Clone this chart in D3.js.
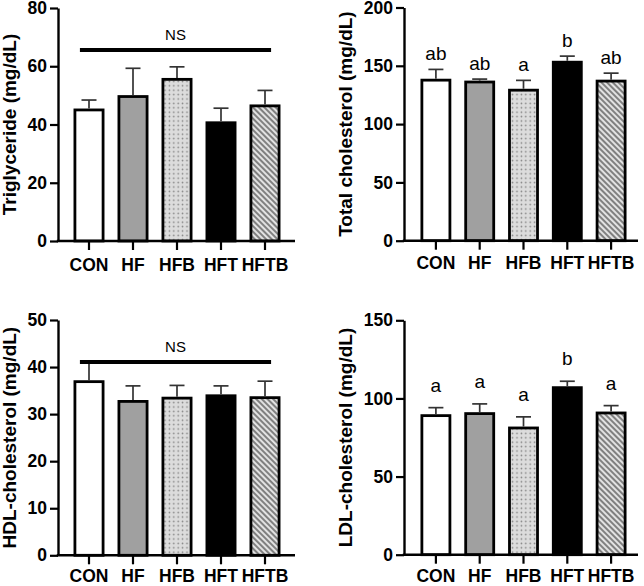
<!DOCTYPE html>
<html><head><meta charset="utf-8">
<script src="https://cdn.jsdelivr.net/npm/d3@7"></script>
<style>
html,body{margin:0;padding:0;background:#fff;}
svg{display:block;font-family:"Liberation Sans",Arial,Helvetica,sans-serif;}
</style></head>
<body>
<svg id="chart" width="644" height="586"></svg>
<script>
// ---- data ----
const categories = ["CON", "HF", "HFB", "HFT", "HFTB"];
const tgMean  = [45.0, 49.6, 55.5, 40.6, 46.4];
const tgErr   = [3.4, 9.7, 4.3, 5.0, 5.3];
const tcMean  = [137.7, 136.1, 129.1, 153.1, 136.9];
const tcErr   = [9.2, 2.5, 8.4, 5.2, 6.8];
const hdlMean = [36.9, 32.7, 33.4, 33.9, 33.5];
const hdlErr  = [4.4, 3.3, 2.7, 2.1, 3.5];
const ldlMean = [89.0, 90.3, 81.1, 106.9, 90.7];
const ldlErr  = [5.1, 6.2, 7.1, 4.1, 4.7];
const tcLetters  = ["ab", "ab", "a", "b", "ab"];
const ldlLetters = ["a", "a", "a", "b", "a"];
const tgTicks  = [0, 20, 40, 60, 80];
const tcTicks  = [0, 50, 100, 150, 200];
const hdlTicks = [0, 10, 20, 30, 40, 50];
const ldlTicks = [0, 50, 100, 150];

const svg = d3.select("#chart");
const defs = svg.append("defs");

// dotted pattern (HFB)
const pd = defs.append("pattern").attr("id", "dots").attr("patternUnits", "userSpaceOnUse")
  .attr("width", 4.4).attr("height", 4.4);
pd.append("rect").attr("width", 4.4).attr("height", 4.4).attr("fill", "#dcdcdc");
pd.append("circle").attr("cx", 2.2).attr("cy", 2.2).attr("r", 0.8).attr("fill", "#808080");

// diagonal hatch (HFTB)
const ph = defs.append("pattern").attr("id", "hatch").attr("patternUnits", "userSpaceOnUse")
  .attr("width", 4).attr("height", 4).attr("patternTransform", "rotate(45)");
ph.append("rect").attr("width", 4).attr("height", 4).attr("fill", "#e2e2e2");
ph.append("line").attr("x1", 0).attr("y1", 1).attr("x2", 4).attr("y2", 1)
  .attr("stroke", "#4a4a4a").attr("stroke-width", 1.3);

const fills = ["#ffffff", "#a0a0a0", "url(#dots)", "#000000", "url(#hatch)"];

const panels = [
  {mean: tgMean, err: tgErr, ticks: tgTicks, title: "Triglyceride (mg/dL)",
   ax: 58, top: 8, bottom: 241, band: [67, 287], axEnd: 295, titleX: 16, labelY: 271, ns: true},
  {mean: tcMean, err: tcErr, ticks: tcTicks, title: "Total cholesterol (mg/dL)",
   ax: 404, top: 7.5, bottom: 240.7, band: [414, 633], axEnd: 638, titleX: 352, labelY: 269,
   letters: tcLetters, letterGap: 9},
  {mean: hdlMean, err: hdlErr, ticks: hdlTicks, title: "HDL-cholesterol (mg/dL)",
   ax: 58, top: 320, bottom: 555.3, band: [67, 287], axEnd: 295, titleX: 16, labelY: 582, ns: true},
  {mean: ldlMean, err: ldlErr, ticks: ldlTicks, title: "LDL-cholesterol (mg/dL)",
   ax: 404, top: 320.3, bottom: 554.7, band: [414, 633], axEnd: 638, titleX: 352, labelY: 582,
   letters: ldlLetters, letterGap: 16}
];

panels.forEach(p => {
  const g = svg.append("g");
  const y = d3.scaleLinear().domain([p.ticks[0], p.ticks[p.ticks.length - 1]]).range([p.bottom, p.top]);
  const x = d3.scaleBand().domain(categories).range(p.band).paddingInner(0.36).paddingOuter(0.18);

  // bars
  g.selectAll("rect.bar").data(categories).join("rect")
    .attr("class", "bar")
    .attr("x", d => x(d))
    .attr("width", x.bandwidth())
    .attr("y", (d, i) => y(p.mean[i]))
    .attr("height", (d, i) => y(0) - y(p.mean[i]))
    .attr("fill", (d, i) => fills[i])
    .attr("stroke", "#000").attr("stroke-width", 2.8);

  // error bars (upper only)
  const eb = g.selectAll("g.err").data(categories).join("g").attr("class", "err");
  eb.append("line")
    .attr("x1", d => x(d) + x.bandwidth() / 2).attr("x2", d => x(d) + x.bandwidth() / 2)
    .attr("y1", (d, i) => y(p.mean[i]) - 1.4)
    .attr("y2", (d, i) => y(p.mean[i] + p.err[i]))
    .attr("stroke", "#333").attr("stroke-width", 1.7);
  eb.append("line")
    .attr("x1", d => x(d) + x.bandwidth() / 2 - 7.5).attr("x2", d => x(d) + x.bandwidth() / 2 + 7.5)
    .attr("y1", (d, i) => y(p.mean[i] + p.err[i]))
    .attr("y2", (d, i) => y(p.mean[i] + p.err[i]))
    .attr("stroke", "#333").attr("stroke-width", 1.7);

  // y axis
  const ya = g.append("g").attr("transform", `translate(${p.ax},0)`)
    .call(d3.axisLeft(y).tickValues(p.ticks).tickSize(8).tickSizeOuter(0).tickPadding(3).tickFormat(d3.format("d")));
  ya.select(".domain").attr("stroke", "#000").attr("stroke-width", 2.4);
  ya.selectAll(".tick line").attr("stroke", "#000").attr("stroke-width", 2.2);
  ya.selectAll(".tick text").attr("font-size", 17.5).attr("font-weight", "bold").attr("fill", "#000")
    .attr("font-family", "Liberation Sans, Arial, sans-serif");

  // x axis
  const xa = g.append("g").attr("transform", `translate(0,${p.bottom})`)
    .call(d3.axisBottom(x).tickSize(9).tickSizeOuter(0));
  xa.select(".domain").remove();
  xa.selectAll(".tick line").attr("stroke", "#000").attr("stroke-width", 2.2);
  xa.selectAll(".tick text").remove();
  g.append("line").attr("x1", p.ax - 1.2).attr("x2", p.axEnd)
    .attr("y1", p.bottom).attr("y2", p.bottom)
    .attr("stroke", "#000").attr("stroke-width", 2.4);
  g.selectAll("text.xlab").data(categories).join("text").attr("class", "xlab")
    .attr("x", d => x(d) + x.bandwidth() / 2).attr("y", p.labelY)
    .attr("text-anchor", "middle").attr("font-size", 17.5).attr("font-weight", "bold")
    .text(d => d);

  // y title
  g.append("text")
    .attr("transform", `translate(${p.titleX},${(p.top + p.bottom) / 2}) rotate(-90)`)
    .attr("text-anchor", "middle").attr("font-size", 19).attr("font-weight", "bold")
    .text(p.title);

  // NS bar
  if (p.ns) {
    const x0 = x(categories[0]) + 5;
    const x1 = x(categories[categories.length - 1]) + x.bandwidth() - 8;
    const ly = p.top + 42;
    g.append("line").attr("x1", x0).attr("x2", x1).attr("y1", ly).attr("y2", ly)
      .attr("stroke", "#000").attr("stroke-width", 4);
    g.append("text").attr("x", (x0 + x1) / 2).attr("y", ly - 10.5)
      .attr("text-anchor", "middle").attr("font-size", 15).text("NS");
  }

  // significance letters
  if (p.letters) {
    g.selectAll("text.sig").data(categories).join("text").attr("class", "sig")
      .attr("x", d => x(d) + x.bandwidth() / 2)
      .attr("y", (d, i) => y(p.mean[i] + p.err[i]) - p.letterGap)
      .attr("text-anchor", "middle").attr("font-size", 19)
      .text((d, i) => p.letters[i]);
  }
});
</script>
</body></html>
